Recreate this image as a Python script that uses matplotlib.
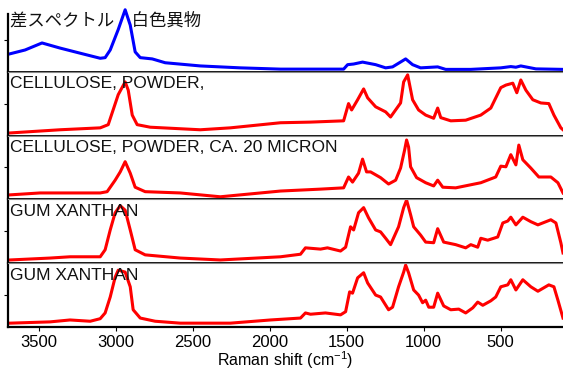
import matplotlib.pyplot as plt

plt.rcParams['font.family'] = ['Liberation Sans', 'Noto Sans CJK JP', 'DejaVu Sans']
plt.rcParams['mathtext.default'] = 'regular'

# panel labels (top to bottom)
labels = ['差スペクトル\u3000白色異物',
          'CELLULOSE, POWDER,',
          'CELLULOSE, POWDER, CA. 20 MICRON',
          'GUM XANTHAN',
          'GUM XANTHAN']
colors = ['#0000ff', '#ff0000', '#ff0000', '#ff0000', '#ff0000']

# difference spectrum (blue)
diff_wn = [3687, 3589, 3479, 3362, 3232, 3101, 3069, 3036, 2984, 2939, 2906, 2874,
           2841, 2763, 2679, 2451, 2191, 1930, 1520, 1494, 1455, 1397, 1312, 1247,
           1202, 1117, 1072, 1020, 909, 857, 694, 499, 434, 401, 369, 271, 95]
diff_int = [28, 34, 45, 37, 29, 21, 22, 34, 66, 97, 73, 31,
            22, 20, 14, 9, 6, 4, 4, 11, 12, 15, 11, 6,
            7.5, 20, 11, 6, 7.5, 3.6, 3.6, 6, 8, 7, 9, 4.4, 3.6]

# cellulose, powder
cell_wn = [3687, 3492, 3362, 3101, 3049, 2984, 2939, 2919, 2893, 2861, 2776, 2451,
           2256, 1930, 1735, 1520, 1488, 1468, 1429, 1390, 1364, 1312, 1247, 1215,
           1150, 1130, 1104, 1072, 1033, 987, 935, 909, 889, 824, 727, 629, 564,
           499, 466, 421, 395, 369, 336, 291, 239, 187, 154, 109, 95]
cell_int = [4, 7, 9, 12, 17, 64, 84, 71, 32, 17, 13, 9,
            12, 20, 21, 23, 50, 40, 56, 73, 59, 45, 37, 29,
            51, 84, 95, 56, 40, 32, 27, 43, 28, 23, 24, 32, 43,
            75, 79, 82, 67, 87, 71, 56, 51, 50, 32, 12, 9]

# cellulose, powder, ca. 20 micron
cell20_wn = [3687, 3492, 3101, 3056, 3004, 2971, 2939, 2906, 2874, 2809, 2581, 2321,
             2060, 1930, 1670, 1520, 1488, 1462, 1423, 1397, 1371, 1345, 1280, 1228,
             1182, 1150, 1124, 1111, 1098, 1085, 1046, 987, 935, 909, 876, 792, 629,
             532, 499, 466, 434, 401, 382, 356, 304, 252, 174, 128, 95]
cell20_int = [7, 10, 10, 12, 30, 43, 59, 41, 19, 12, 10, 4,
              10, 13, 16, 18, 35, 27, 41, 63, 43, 43, 34, 24,
              30, 49, 77, 93, 82, 51, 34, 26, 21, 30, 19, 18, 26,
              35, 52, 51, 70, 54, 85, 62, 49, 35, 35, 26, 10]

# gum xanthan (1)
gum1_wn = [3687, 3427, 3297, 3101, 3069, 3036, 3004, 2971, 2939, 2906, 2874, 2809,
           2581, 2321, 1930, 1800, 1768, 1670, 1625, 1540, 1507, 1475, 1455, 1423,
           1390, 1358, 1312, 1280, 1247, 1215, 1163, 1130, 1111, 1085, 1065, 1020,
           987, 935, 909, 870, 792, 727, 694, 649, 629, 584, 519, 486, 454, 434,
           401, 356, 304, 258, 174, 141, 109, 95]
gum1_int = [5, 8, 10, 10, 21, 52, 79, 90, 83, 52, 21, 13,
            8, 5, 10, 14, 24, 22, 24, 19, 25, 57, 52, 79,
            87, 71, 52, 49, 39, 29, 57, 87, 99, 76, 57, 44,
            33, 32, 54, 33, 29, 24, 29, 25, 39, 36, 41, 63, 66, 72,
            60, 72, 65, 60, 68, 63, 32, 16]

# gum xanthan (2)
gum2_wn = [3687, 3427, 3297, 3166, 3101, 3069, 3036, 3004, 2984, 2939, 2906, 2887,
           2841, 2744, 2581, 2256, 1995, 1800, 1768, 1735, 1638, 1540, 1507, 1481,
           1462, 1429, 1390, 1364, 1312, 1280, 1228, 1202, 1163, 1130, 1117, 1098,
           1065, 1033, 1007, 987, 967, 935, 909, 870, 824, 772, 727, 681, 649, 616,
           564, 532, 499, 454, 434, 401, 356, 304, 258, 187, 154, 128, 95]
gum2_int = [6, 8, 11, 9, 13, 22, 47, 78, 89, 86, 63, 27,
            14, 9, 6, 6, 11, 14, 22, 20, 22, 19, 24, 55,
            53, 77, 85, 69, 50, 47, 27, 31, 63, 86, 97, 85,
            58, 50, 38, 42, 31, 31, 53, 33, 27, 28, 22, 30, 39, 34,
            41, 47, 63, 66, 74, 58, 74, 63, 56, 66, 63, 42, 14]

spectra = [(diff_wn, diff_int), (cell_wn, cell_int), (cell20_wn, cell20_int),
           (gum1_wn, gum1_int), (gum2_wn, gum2_int)]
xticks = [3500, 3000, 2500, 2000, 1500, 1000, 500]


def main():
    fig, axes = plt.subplots(5, 1, sharex=True, figsize=(5.63, 3.74), dpi=100)
    fig.subplots_adjust(left=0.0142, right=1.0, top=0.979, bottom=0.1257, hspace=0)

    for i, (ax, (wn, inten)) in enumerate(zip(axes, spectra)):
        ax.plot(wn, inten, color=colors[i], lw=2.2, solid_joinstyle='round')
        ax.set_ylim(0, 100)
        ax.set_xlim(3700, 95)
        ax.spines['right'].set_visible(False)
        ax.spines['left'].set_linewidth(1.6)
        ax.spines['bottom'].set_linewidth(1.3)
        if i == 0:
            ax.spines['top'].set_visible(False)
            ax.spines['left'].set_bounds(0, 90)
        else:
            ax.spines['top'].set_color('#888888')
            ax.spines['top'].set_linewidth(0.8)
        ax.set_yticks([50])
        ax.set_yticklabels([])
        ax.tick_params(axis='y', direction='out', length=3, width=0.8)
        ax.text(0.004, 0.93, labels[i], transform=ax.transAxes, ha='left', va='top',
                fontsize=12.5, color='#111111')

    bottom = axes[-1]
    bottom.spines['bottom'].set_linewidth(1.6)
    bottom.set_xticks(xticks)
    bottom.set_xticklabels([str(t) for t in xticks])
    bottom.tick_params(axis='x', direction='out', length=3, width=0.8,
                       labelsize=12, pad=2.5)
    for ax in axes[:-1]:
        ax.tick_params(axis='x', length=0)
    bottom.set_xlabel('Raman shift (cm$^{-1}$)', fontsize=11.5, labelpad=0)

    fig.savefig('out.png', dpi=100)


if __name__ == "__main__":
    main()
